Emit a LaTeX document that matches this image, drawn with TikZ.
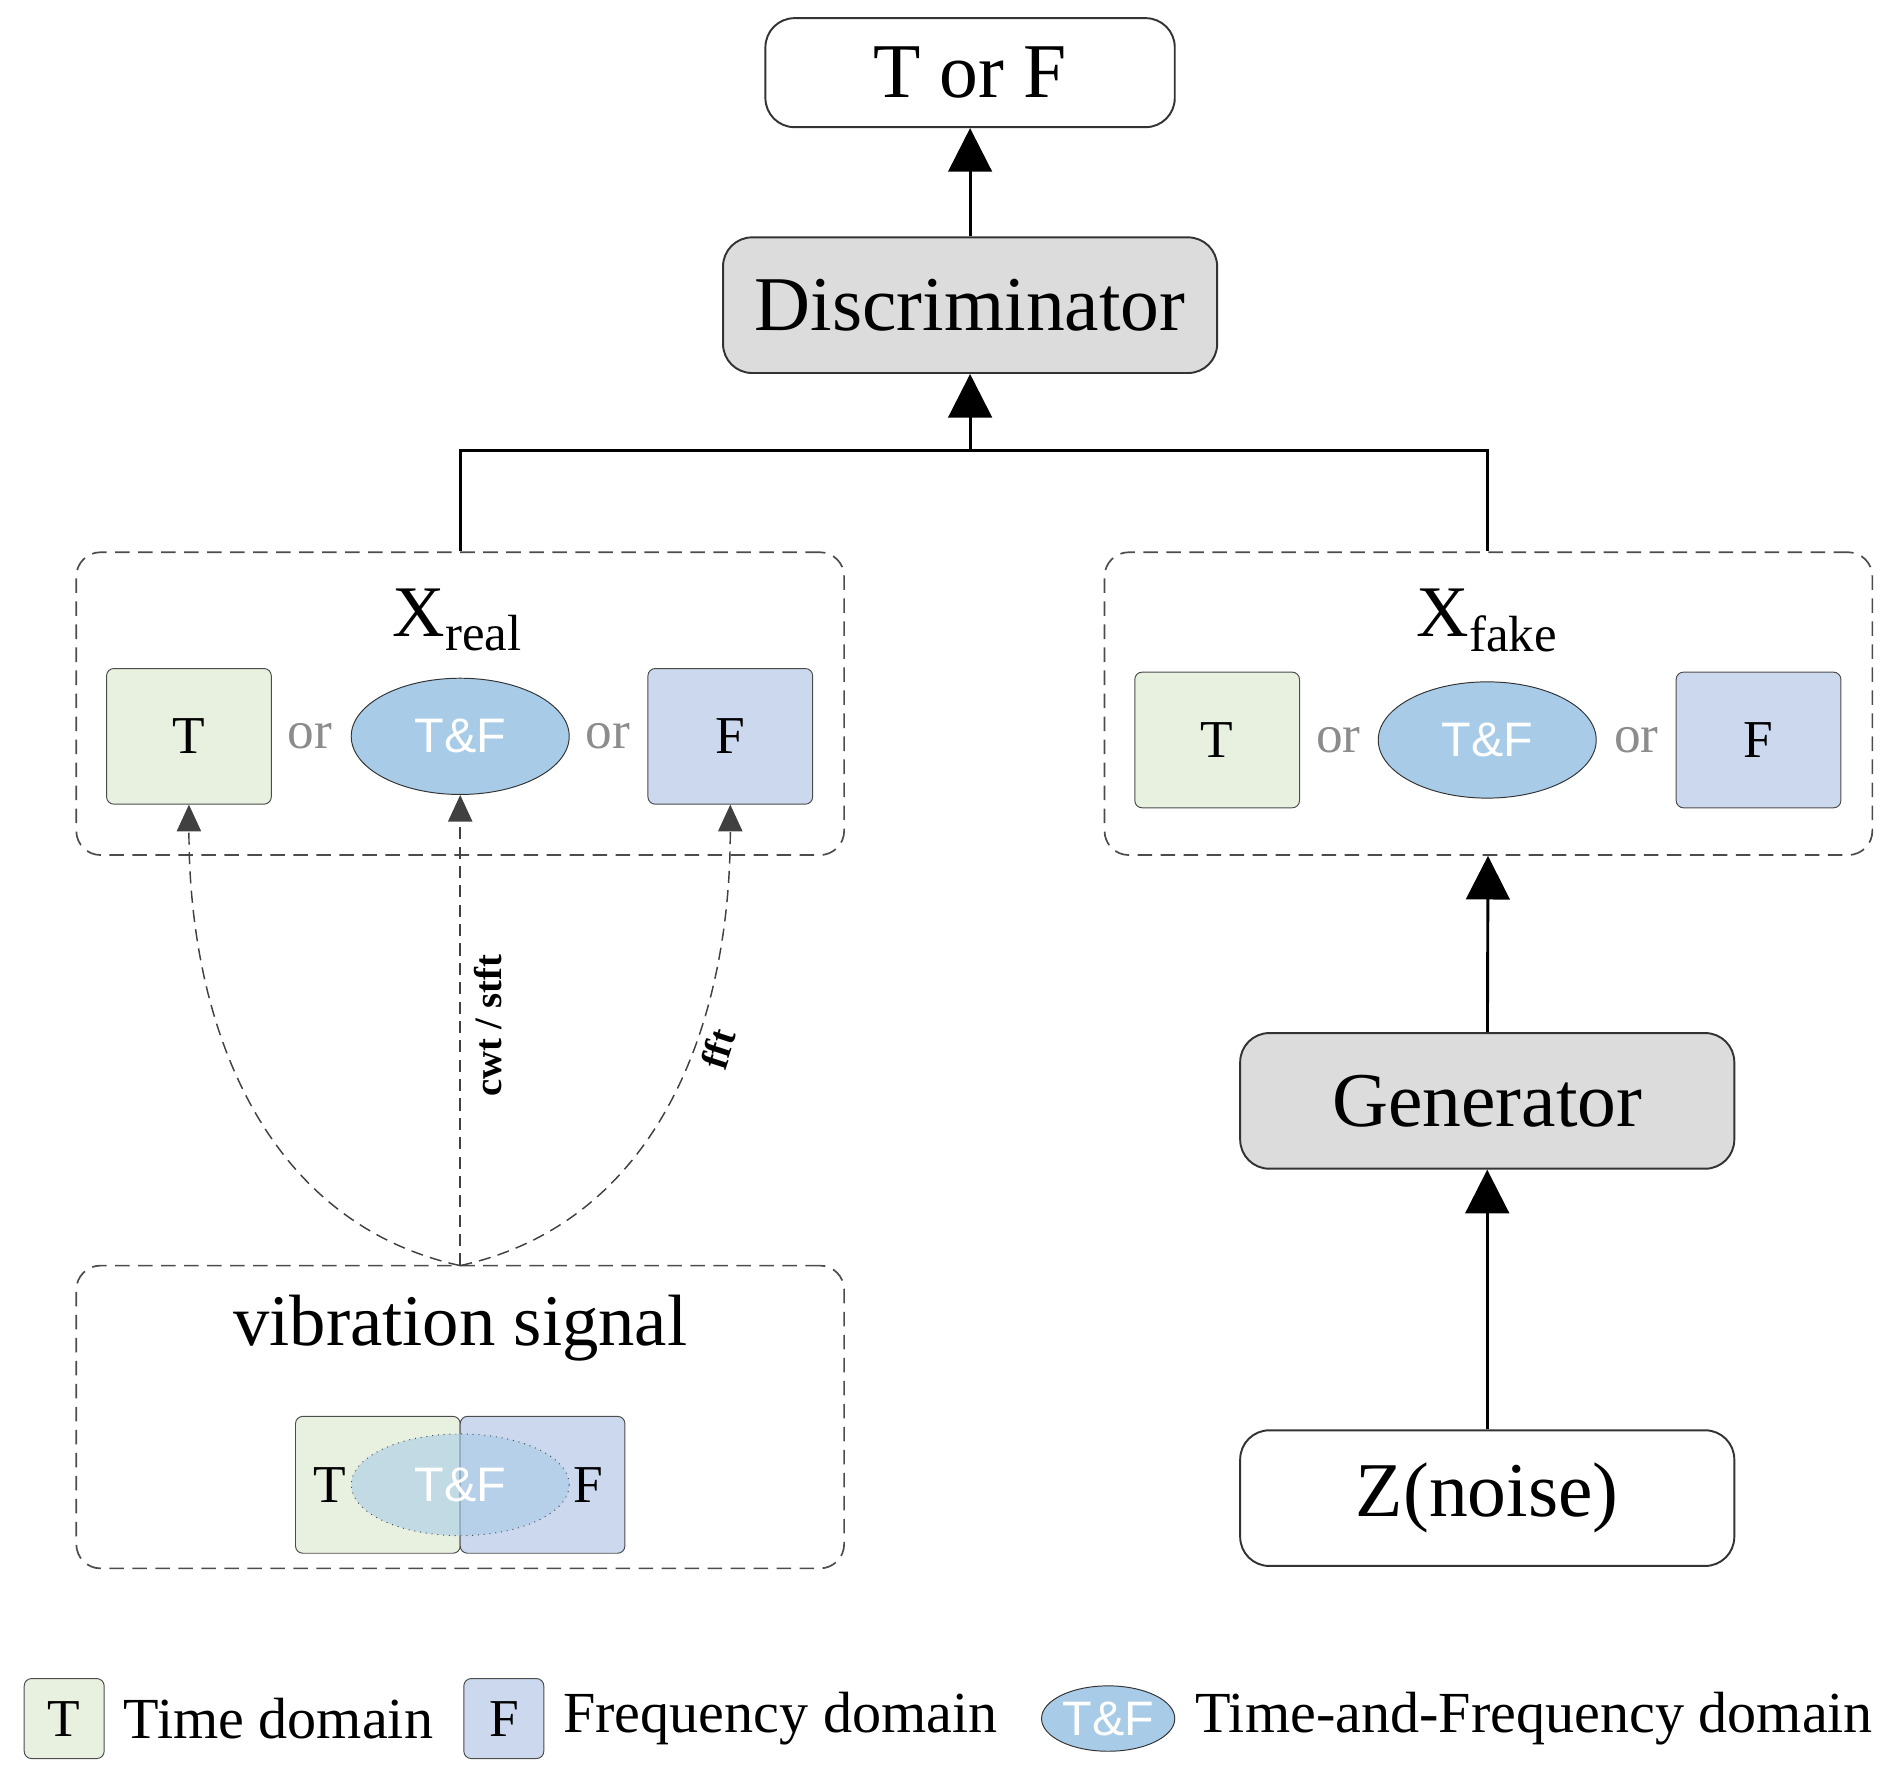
\documentclass[tikz,border=0pt]{standalone}
\usepackage{fontspec}
\setmainfont{Liberation Serif}
\newfontfamily\tfsans{Liberation Sans}
\usetikzlibrary{arrows.meta,shapes.geometric}
\definecolor{tgreen}{RGB}{232,240,224}
\definecolor{fblue}{RGB}{203,216,238}
\definecolor{tfblue}{RGB}{168,204,232}
\definecolor{boxgray}{RGB}{220,220,220}
\definecolor{orgray}{RGB}{140,140,140}
\begin{document}
\begin{tikzpicture}[x=0.5pt,y=-0.5pt,
  big/.style={draw=black!80,rounded corners=12pt,line width=0.8pt,minimum width=204pt,minimum height=56pt,font=\fontsize{32}{36}\selectfont},
  dbox/.style={draw=black!70,dash pattern=on 6pt off 3.5pt,rounded corners=10pt,line width=0.7pt,minimum width=317pt,minimum height=125pt},
  tbox/.style={draw=black!70,fill=tgreen,rounded corners=3pt,minimum width=68pt,minimum height=56pt,font=\fontsize{22}{24}\selectfont},
  fbox/.style={draw=black!70,fill=fblue,rounded corners=3pt,minimum width=68pt,minimum height=56pt,font=\fontsize{22}{24}\selectfont},
  tf/.style={draw=black!80,fill=tfblue,ellipse,minimum width=90pt,minimum height=48pt,inner sep=0pt,text=white,font=\tfsans\fontsize{20}{22}\selectfont},
  ortxt/.style={text=orgray,font=\fontsize{22}{24}\selectfont},
  arr/.style={line width=1.2pt,-{Triangle[width=18pt,length=18pt]}},
  darr/.style={dash pattern=on 5pt off 3pt,line width=0.6pt,black!75,-{Triangle[width=10pt,length=11pt]}},
  leg/.style={font=\fontsize{24}{26}\selectfont,anchor=west}]
\useasboundingbox (0,0) rectangle (1568,1470);
\node[big,minimum width=169pt,minimum height=45pt] (torf) at (801,60) {T or F};
\node[big,fill=boxgray] (disc) at (801,252) {Discriminator};
\node[big,fill=boxgray] (gen) at (1228,909) {Generator};
\node[big] (z) at (1228,1237) {Z(noise)};
\node[dbox] (xr) at (380,581) {};
\node[dbox] (xf) at (1229,581) {};
\node[dbox] (vs) at (380,1170) {};
\node[font=\fontsize{30}{32}\selectfont] (xrl) at (378,512) {X\textsubscript{real}};
\node[font=\fontsize{30}{32}\selectfont] (xfl) at (1228,512) {X\textsubscript{fake}};
\node[tbox] (rt) at (156,608) {T};
\node[ortxt] (ro1) at (256,608) {or};
\node[tf] (rtf) at (380,608) {T\&F};
\node[ortxt] (ro2) at (502,608) {or};
\node[fbox] (rf) at (603,608) {F};
\node[tbox] (ft) at (1005,611) {T};
\node[ortxt] (fo1) at (1105,611) {or};
\node[tf] (ftf) at (1228,611) {T\&F};
\node[ortxt] (fo2) at (1351,611) {or};
\node[fbox] (ff) at (1452,611) {F};
\node[font=\fontsize{30}{32}\selectfont] (vsl) at (380,1097) {vibration signal};
\node[tbox,minimum height=56.5pt] (vt) at (312,1226) {};
\node[fbox,minimum height=56.5pt] (vf) at (448,1226) {};
\node[ellipse,draw=black!70,dotted,fill=tfblue,fill opacity=0.6,minimum width=90pt,minimum height=42pt,inner sep=0pt] (vtf) at (380,1226) {};
\node[font=\fontsize{22}{24}\selectfont] (vtl) at (272,1226) {T};
\node[font=\fontsize{22}{24}\selectfont] (vfl) at (486,1226) {F};
\node[text=white,font=\tfsans\fontsize{20}{22}\selectfont] (vtft) at (380,1226) {T\&F};
\coordinate (src) at (380,1045);
\coordinate (j) at (801,372);
\draw[arr] (disc) -- (torf);
\draw[line width=1.2pt] (xr.north -| rtf) |- (j) -| (xf.north -| ftf);
\draw[arr] (j) -- (disc);
\draw[arr] (gen) -- (xf);
\draw[arr] (z) -- (gen);
\draw[darr] (src) .. controls (220,1010) and (156,850) .. (rt.south);
\draw[darr] (src) -- (rtf.south);
\node[rotate=90,font=\bfseries\fontsize{16}{18}\selectfont] (cwt) at (403,847) {cwt / stft};
\draw[darr] (src) .. controls (540,1010) and (603,850) .. (rf.south);
\node[rotate=72,font=\bfseries\fontsize{16}{18}\selectfont] (fftl) at (593,866) {fft};
\node[tbox,minimum width=33pt,minimum height=33pt,font=\fontsize{22}{24}\selectfont] (lt) at (53,1419) {T};
\node[leg] (ltl) at (95,1419) {Time domain};
\node[fbox,minimum width=33pt,minimum height=33pt,font=\fontsize{22}{24}\selectfont] (lf) at (416,1419) {F};
\node[leg] (lfl) at (458,1419) {Frequency domain};
\node[tf,minimum width=55pt,minimum height=27pt] (ltf) at (915,1419) {T\&F};
\node[leg] (ltfl) at (980,1419) {Time-and-Frequency domain};
\end{tikzpicture}
\end{document}
